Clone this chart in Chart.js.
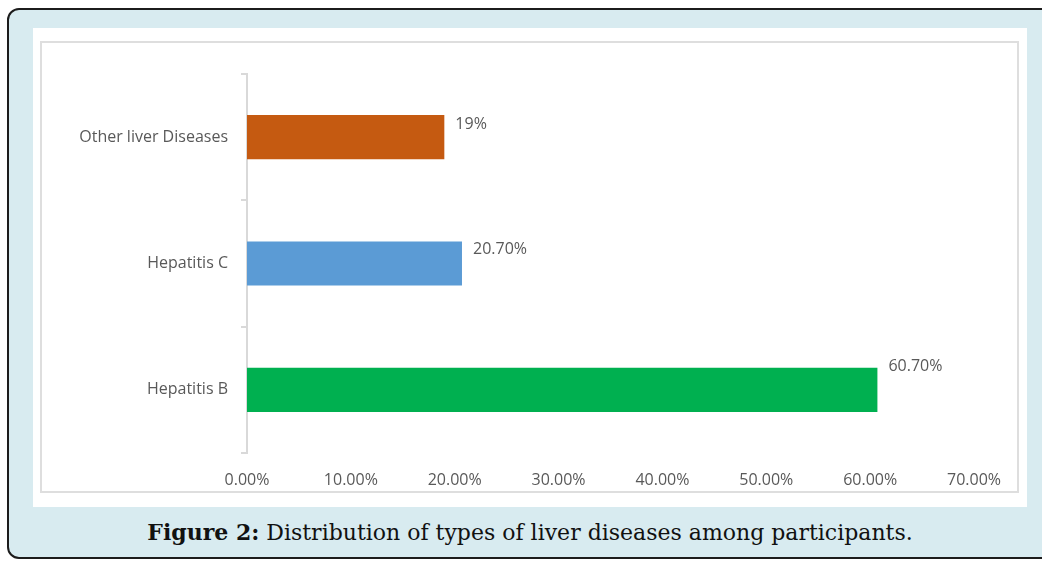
<!DOCTYPE html>
<html>
<head>
<meta charset="utf-8">
<script src="https://cdn.jsdelivr.net/npm/chart.js@4.4.1/dist/chart.umd.min.js"></script>
<style>
  html, body { margin: 0; padding: 0; background: #ffffff; width: 1042px; height: 561px; overflow: hidden; }
  #frame {
    position: absolute; left: 7px; top: 8px; width: 1100px; height: 547px;
    border: 2px solid #1c1c1c; border-radius: 12px; background: #d8ebf0;
  }
  #panel { position: absolute; left: 33px; top: 28px; width: 994px; height: 479px; background: #ffffff; }
  #box {
    position: absolute; left: 40px; top: 41px; width: 975px; height: 448px;
    border: 2px solid #dedede; background: #ffffff;
  }
  #box canvas { display: block; }
  #caption {
    position: absolute; left: 33px; top: 514px; width: 994px; text-align: center;
    font-family: "DejaVu Serif", serif;
    font-size: 22px; color: #111111; line-height: 36px;
  }
  #caption b { font-weight: bold; }
</style>
</head>
<body>
<div id="frame"></div>
<div id="panel"></div>
<div id="box"><canvas id="chart" width="975" height="448"></canvas></div>
<div id="caption"><b>Figure 2:</b> Distribution of types of liver diseases among participants.</div>
<script>
// Share of participants by type of liver disease (%)
const categories = ['Other liver Diseases', 'Hepatitis C', 'Hepatitis B'];
const shares = [19, 20.7, 60.7];
const shareLabels = ['19%', '20.70%', '60.70%'];
const barColors = ['#c55a11', '#5b9bd5', '#00b050'];
const xTicks = [0, 10, 20, 30, 40, 50, 60, 70];

const textColor = '#595959';
const axisFont = { family: '"Open Sans", sans-serif', size: 16 };

// Value labels placed up and to the right of each bar end
const valueLabels = {
  id: 'valueLabels',
  afterDatasetsDraw(chart, args, opts) {
    const ctx = chart.ctx;
    const meta = chart.getDatasetMeta(0);
    ctx.save();
    ctx.font = `${axisFont.size}px ${axisFont.family}`;
    ctx.fillStyle = textColor;
    ctx.textAlign = 'left';
    ctx.textBaseline = 'middle';
    meta.data.forEach((bar, i) => {
      ctx.fillText(shareLabels[i], bar.x + opts.dx, bar.y + opts.dy[i]);
    });
    ctx.restore();
  }
};

new Chart(document.getElementById('chart'), {
  type: 'bar',
  data: {
    labels: categories,
    datasets: [{
      data: shares,
      backgroundColor: barColors,
      borderWidth: 0,
      barPercentage: 0.35,
      categoryPercentage: 1.0
    }]
  },
  options: {
    indexAxis: 'y',
    responsive: false,
    animation: false,
    layout: { padding: { top: 31, left: 0, right: 43, bottom: 0 } },
    plugins: {
      legend: { display: false },
      tooltip: { enabled: false },
      valueLabels: { dx: 11, dy: [-13, -14, -23] }
    },
    scales: {
      x: {
        min: 0,
        max: 70,
        afterBuildTicks(scale) { scale.ticks = xTicks.map(v => ({ value: v })); },
        afterFit(scale) { scale.height = 38; },
        ticks: {
          color: textColor,
          font: axisFont,
          padding: 10,
          maxRotation: 0,
          callback: v => v.toFixed(2) + '%'
        },
        grid: { display: false },
        border: { display: false }
      },
      y: {
        afterFit(scale) { scale.width = 205; },
        ticks: { color: textColor, font: axisFont, padding: 13 },
        grid: {
          offset: true,
          drawOnChartArea: false,
          drawTicks: true,
          tickLength: 6,
          color: '#d9d9d9',
          lineWidth: 2
        },
        border: { display: true, color: '#d9d9d9', width: 2 }
      }
    }
  },
  plugins: [valueLabels]
});
</script>
</body>
</html>
